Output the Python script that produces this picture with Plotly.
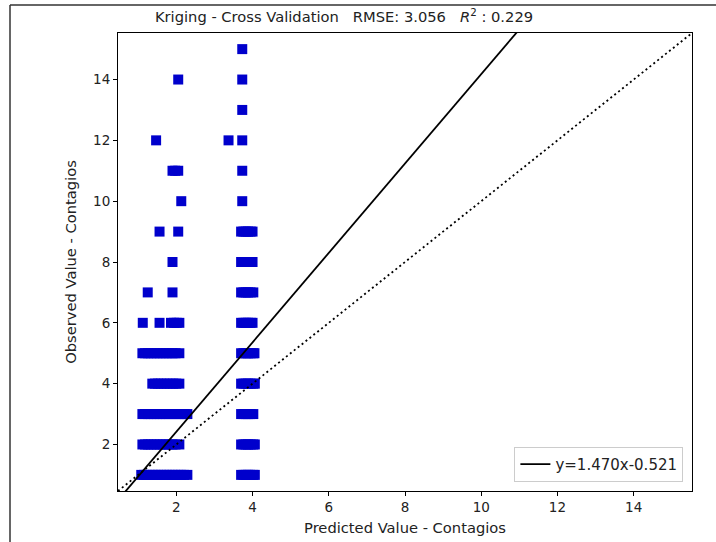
import plotly.graph_objects as go

obs_levels = [1, 2, 3, 4, 5, 6, 7, 8, 9, 10, 11, 12, 13, 14, 15]
pred_at_level = {
    1: [1.08, 1.15, 1.22, 1.30, 1.38, 1.45, 1.52, 1.60, 1.68, 1.75, 1.82, 1.90, 1.97, 2.05, 2.12, 2.20, 2.29,
        3.70, 3.76, 3.82, 3.88, 3.95, 4.02, 4.06],
    2: [1.11, 1.18, 1.26, 1.34, 1.42, 1.50, 1.58, 1.66, 1.74, 1.82, 1.90, 1.98, 2.08,
        3.70, 3.76, 3.82, 3.88, 3.95, 4.02, 4.06],
    3: [1.11, 1.18, 1.26, 1.34, 1.42, 1.50, 1.58, 1.66, 1.74, 1.82, 1.90, 1.98, 2.06, 2.14, 2.22, 2.29,
        3.70, 3.76, 3.82, 3.88, 3.95, 4.02],
    4: [1.37, 1.44, 1.52, 1.60, 1.68, 1.76, 1.84, 1.92, 2.00, 2.08,
        3.70, 3.76, 3.82, 3.88, 3.95, 4.02, 4.06],
    5: [1.11, 1.18, 1.26, 1.34, 1.42, 1.50, 1.58, 1.66, 1.74, 1.82, 1.90, 1.98, 2.08,
        3.70, 3.76, 3.82, 3.88, 3.95, 4.02, 4.05],
    6: [1.12, 1.56, 1.86, 1.94, 2.01, 2.08,
        3.70, 3.76, 3.82, 3.88, 3.95, 4.00],
    7: [1.25, 1.90,
        3.70, 3.76, 3.82, 3.88, 3.95, 4.02],
    8: [1.90,
        3.70, 3.76, 3.82, 3.88, 3.95, 4.00],
    9: [1.56, 2.05,
        3.70, 3.76, 3.82, 3.88, 3.95, 4.00],
    10: [2.13, 3.73],
    11: [1.90, 1.97, 2.05, 3.73],
    12: [1.47, 3.37, 3.73],
    13: [3.73],
    14: [2.05, 3.73],
    15: [3.73],
}

slope = 1.470
intercept = -0.521
rmse = 3.056
r2 = 0.229
axis_min, axis_max = 0.47, 15.53
tick_vals = [2, 4, 6, 8, 10, 12, 14]

xs, ys = [], []
for lvl in obs_levels:
    for p in pred_at_level[lvl]:
        xs.append(p)
        ys.append(lvl)

fig = go.Figure()
fig.add_trace(go.Scatter(
    x=xs, y=ys, mode="markers",
    marker=dict(symbol="square", size=10, color="#0000cc", line=dict(width=0)),
    showlegend=False, hoverinfo="skip"))

# 1:1 line
fig.add_trace(go.Scatter(
    x=[axis_min, axis_max], y=[axis_min, axis_max], mode="lines",
    line=dict(color="black", width=1.8, dash="2px,3px"), showlegend=False))

# regression line
x_fit = [axis_min, axis_max]
y_fit = [slope * v + intercept for v in x_fit]
label = ("y=%.3fx%.3f" % (slope, intercept)) if intercept < 0 else ("y=%.3fx+%.3f" % (slope, intercept))
fig.add_trace(go.Scatter(
    x=x_fit, y=y_fit, mode="lines",
    line=dict(color="black", width=1.8), name=label))

L, R, T, B = 118, 24, 33, 51
W, H = 716, 542
pw, ph = W - L - R, H - T - B

def px_x(px):
    return (px - L) / pw

def px_y(py):
    return (H - B - py) / ph

fig.update_layout(
    width=W, height=H,
    margin=dict(l=L, r=R, t=T, b=B),
    paper_bgcolor="white", plot_bgcolor="white",
    font=dict(family="DejaVu Sans", size=13.5, color="#222222"),
    title=dict(
        text="Kriging - Cross Validation   RMSE: %.3f   <i>R</i><sup>2</sup> : %.3f" % (rmse, r2),
        x=px_x(344), xref="paper", xanchor="center",
        y=1 - 17 / H, yref="container", yanchor="middle",
        font=dict(size=14.7, color="#222222")),
    xaxis=dict(
        range=[axis_min, axis_max], tickvals=tick_vals, showgrid=False, zeroline=False,
        showline=True, linecolor="black", linewidth=1, mirror=True, automargin=False,
        ticks="outside", ticklen=4, tickcolor="black",
        title=dict(text="Predicted Value - Contagios", font=dict(size=14.7), standoff=8)),
    yaxis=dict(
        range=[axis_min, axis_max], tickvals=tick_vals, showgrid=False, zeroline=False,
        showline=True, linecolor="black", linewidth=1, mirror=True, automargin=False,
        ticks="outside", ticklen=4, tickcolor="black",
        title=dict(text="Observed Value - Contagios", font=dict(size=14.7), standoff=12)),
    legend=dict(
        x=0.985, y=0.02, xanchor="right", yanchor="bottom",
        bgcolor="white", bordercolor="#cccccc", borderwidth=1,
        font=dict(size=15)),
    shapes=[
        dict(type="line", xref="paper", yref="paper",
             x0=px_x(10), x1=px_x(716), y0=px_y(5), y1=px_y(5),
             line=dict(color="#333333", width=1.5)),
        dict(type="line", xref="paper", yref="paper",
             x0=px_x(10), x1=px_x(10), y0=px_y(5), y1=px_y(542),
             line=dict(color="#333333", width=1.5)),
    ],
)

fig.write_html("out.html", config={"displayModeBar": False},
               post_script="document.body.style.margin='0px';")
